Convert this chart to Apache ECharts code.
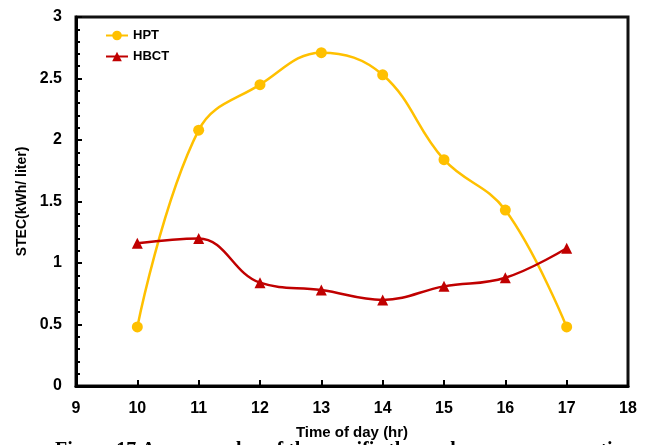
<!DOCTYPE html>
<html>
<head>
<meta charset="utf-8">
<script src="https://cdn.jsdelivr.net/npm/echarts@6/dist/echarts.min.js"></script>
<style>
  html, body { margin: 0; padding: 0; background: #fff; }
  #chart { width: 652px; height: 445px; }
</style>
</head>
<body>
<div id="chart"></div>
<script>
// hours of the day
var hours = [10, 11, 12, 13, 14, 15, 16, 17];
// STEC values (kWh/ liter)
var hpt = [0.48, 2.08, 2.45, 2.71, 2.53, 1.84, 1.43, 0.48];
var hbct = [1.16, 1.20, 0.84, 0.78, 0.70, 0.81, 0.88, 1.12];

function pairs(ys) {
    return hours.map(function (h, i) { return [h, ys[i]]; });
}

var myChart = echarts.init(document.getElementById('chart'));

var font = 'Liberation Sans, Arial, sans-serif';

var option = {
    animation: false,
    grid: { left: 76, right: 24, top: 17, bottom: 57, show: true, borderColor: '#111', borderWidth: 3 },
    legend: {
        left: 100, top: 24,
        orient: 'vertical',
        itemGap: 8,
        itemWidth: 22, itemHeight: 12,
        textStyle: { fontFamily: font, fontWeight: 'bold', fontSize: 13, color: '#000' },
        data: ['HPT', 'HBCT']
    },
    xAxis: {
        type: 'value',
        min: 9, max: 18, interval: 1,
        name: 'Time of day (hr)',
        nameLocation: 'middle',
        nameGap: 39,
        nameTextStyle: { fontFamily: font, fontWeight: 'bold', fontSize: 15, color: '#000' },
        axisLine: { lineStyle: { color: '#000', width: 3 } },
        axisTick: { inside: true, length: 6, lineStyle: { color: '#000', width: 2 } },
        axisLabel: { fontFamily: font, fontWeight: 'bold', fontSize: 16, color: '#000', margin: 15 },
        splitLine: { show: false }
    },
    yAxis: {
        type: 'value',
        min: 0, max: 3, interval: 0.5,
        name: 'STEC(kWh/ liter)',
        nameLocation: 'middle',
        nameGap: 44,
        nameTextStyle: { fontFamily: font, fontWeight: 'bold', fontSize: 14, color: '#000' },
        axisLine: { lineStyle: { color: '#000', width: 3 } },
        axisTick: { inside: true, length: 6, lineStyle: { color: '#000', width: 2 } },
        minorTick: { show: true, splitNumber: 5, length: 4, lineStyle: { color: '#000', width: 2 } },
        axisLabel: { fontFamily: font, fontWeight: 'bold', fontSize: 16, color: '#000', margin: 14 },
        splitLine: { show: false }
    },
    series: [
        {
            name: 'HPT', type: 'line', smooth: 0.4,
            data: pairs(hpt),
            symbol: 'circle', symbolSize: 11,
            itemStyle: { color: '#FFC000' },
            lineStyle: { color: '#FFC000', width: 2.5 }
        },
        {
            name: 'HBCT', type: 'line', smooth: 0.4,
            data: pairs(hbct),
            symbol: 'triangle', symbolSize: 11,
            itemStyle: { color: '#C00000' },
            lineStyle: { color: '#C00000', width: 2.5 }
        }
    ],
    graphic: [{
        type: 'text',
        left: 55, top: 441,
        z: -1,
        style: {
            text: 'Figure 17 Average value of the specific thermal energy consumption',
            font: 'bold 20px "Liberation Serif", "Times New Roman", serif',
            fill: '#000'
        }
    }]
};

myChart.setOption(option);
</script>
</body>
</html>
